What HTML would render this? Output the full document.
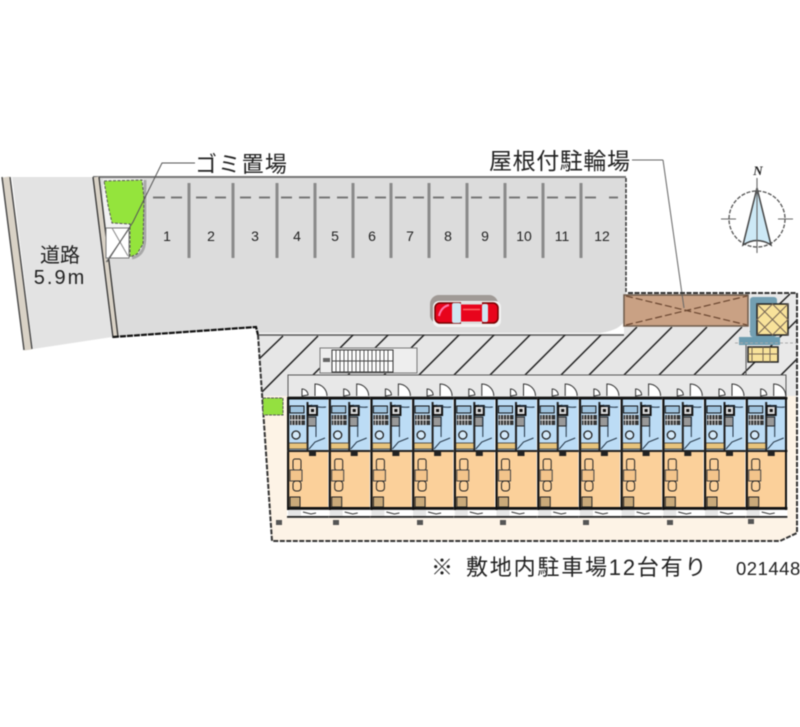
<!DOCTYPE html>
<html lang="ja"><head><meta charset="utf-8"><style>
html,body{margin:0;padding:0;background:#fff}
svg{display:block;filter:blur(.45px)}
text{font-family:"Liberation Sans","Noto Sans CJK JP",sans-serif;fill:#222}
</style></head><body>
<svg width="800" height="727" viewBox="0 0 800 727" xmlns="http://www.w3.org/2000/svg">
<defs>
<clipPath id="hc"><polygon points="258,335 624,335 624,327 745,327 745,375 288,375 288,396 262,396"/></clipPath>
<g id="unit">
 <rect x="0" y="0" width="41.7" height="121" fill="#fff"/>
 <rect x="1" y="0" width="40" height="56" fill="#bcdcf5"/>
 <rect x="1" y="55" width="40" height="56" fill="#fbd09a"/>
 <rect x="1" y="113" width="13" height="6" fill="#e6e6e6"/>
 <rect x="15" y="113" width="26" height="6" fill="#fff"/>
 <path d="M16 115l8 2 5-1" stroke="#333" fill="none"/>
 <rect x="0" y="0" width="41.7" height="2.500" fill="#111"/>
 <rect x="0" y="0" width="2.200" height="113" fill="#111"/>
 <rect x="0" y="110" width="41.7" height="2.800" fill="#111"/>
 <rect x="0" y="119" width="41.7" height="1.800" fill="#222"/>
 <rect x="0" y="53" width="41.7" height="2" fill="#222"/>
 <rect x="19.500" y="5" width="2" height="48" fill="#222"/>
 <rect x="3" y="9" width="14" height="7" fill="#9fc3de" stroke="#111"/>
 <rect x="3" y="18" width="15" height="10" fill="#333"/>
 <path d="M5 18v10M8 18v10M11 18v10M14 18v10M3 23h15" stroke="#ddd" stroke-width=".9"/>
 <rect x="21" y="9" width="9" height="9" fill="#ddd" stroke="#111" stroke-width="2"/>
 <rect x="24" y="12" width="3" height="3" fill="#111"/>
 <rect x="21" y="20" width="8" height="9" fill="#999" stroke="#222"/>
 <circle cx="9" cy="38" r="4" fill="#d5eafa" stroke="#222" stroke-width="1.300"/>
 <rect x="2" y="46" width="18" height="6" fill="#e8c47c" stroke="#333" stroke-width=".8"/>
 <path d="M22 52l6-7 10-4M24 8q8 3 15 2M29 20v20" stroke="#234" fill="none"/>
 <rect x="22" y="53" width="7" height="6" fill="#222"/>
 <rect x="6" y="62" width="8" height="11" rx="2" fill="#fbd09a" stroke="#222"/>
 <rect x="3" y="73" width="12" height="11" fill="#f3c48b" stroke="#444"/>
 <rect x="6" y="84" width="8" height="10" rx="3" fill="#fbd09a" stroke="#222"/>
 <rect x="3" y="100" width="10" height="10" fill="#c9a97a" stroke="#222"/>
 <path d="M28 -1v-12a12 12 0 0 1 12 12" fill="#fff" stroke="#333"/>
 <path d="M15 -1v-7a6 6 0 0 1 6 6z" fill="#fff" stroke="#333"/>
</g>
</defs>
<rect width="800" height="727" fill="#fff"/>

<!-- road -->
<polygon points="12,177 93,177 112,337 33,349" fill="#e3e3e3"/>
<path d="M6,177 L28,350" stroke="#d9d2c6" stroke-width="7"/>
<path d="M2,177 L24,350 M10,177 L32,349" stroke="#444" stroke-width="1.400"/>

<!-- parking lot -->
<path d="M96,178 H626 V318 Q622,330 600,333 H257 V327 L114,337Z" fill="#dcdcdc"/>
<path d="M93,177 H626" stroke="#777" stroke-width="2"/>
<path d="M626,178 V292" stroke="#333" stroke-width="1.500" stroke-dasharray="4 1.500"/>
<path d="M96,177 L116,337" stroke="#d9d2c6" stroke-width="6"/>
<path d="M93,177 L113,338 M99,177 L118,337" stroke="#333" stroke-width="1.300"/>
<path d="M113,337 L256,327 L258,335" stroke="#111" stroke-width="2.200" fill="none" stroke-dasharray="6 1"/>

<!-- garbage corner -->
<path d="M103,179 H143 L147,190 V240 Q146,256 130,258 H110 L103,200Z" fill="#f2f2f2"/>
<path d="M145,180 V238 Q145,255 132,258" stroke="#a8a8a8" stroke-width="3" fill="none"/>
<rect x="106" y="228" width="23" height="30" fill="#fff" stroke="#777"/>
<path d="M129,229 L106,262 M112,228 L128,256" stroke="#888"/>
<polygon points="104,181 142,180 144,198 143,244 137,254 130,257 130,224 112,223 108,205" fill="#94e43c" stroke="#555" stroke-width="1" stroke-dasharray="3 1.500"/>
<path d="M195,163 H162 L133,222 L107,262" stroke="#555" stroke-width="1" fill="none"/>

<!-- stalls -->
<g stroke="#8a8a8a" stroke-width="3">
<path d="M189,183V258M233,183V258M277,183V258M315,183V258M353,183V258M391,183V258M429,183V258M467,183V258M505,183V258M543,183V258M581,183V258"/>
</g>
<path d="M153,197.500H165M171,197.500H182M196,197.500H207M215,197.500H226M240,197.500H251M259,197.500H270M281,197.500H292M299,197.500H310M319,197.500H330M337,197.500H348M357,197.500H368M375,197.500H386M395,197.500H406M413,197.500H424M433,197.500H444M451,197.500H462M471,197.500H482M489,197.500H500M509,197.500H520M527,197.500H538M547,197.500H558M565,197.500H576M585,197.500H596M609,197.500H618" stroke="#777" stroke-width="2"/>
<g font-size="14" text-anchor="middle" fill="#333">
<text x="167" y="241">1</text><text x="211" y="241">2</text><text x="255" y="241">3</text><text x="297" y="241">4</text><text x="335" y="241">5</text><text x="372" y="241">6</text><text x="410" y="241">7</text><text x="448" y="241">8</text><text x="485" y="241">9</text><text x="524" y="241">10</text><text x="562" y="241">11</text><text x="602" y="241">12</text>
</g>

<!-- car -->
<rect x="430" y="295" width="68" height="29" rx="9" fill="#a09a96"/>
<rect x="433" y="301" width="68" height="26" rx="6" fill="#f2f2f2"/>
<rect x="435" y="303" width="63" height="20" rx="5" fill="#e8041c" stroke="#700" stroke-width="1.500"/>
<rect x="452" y="303" width="9" height="20" rx="2" fill="#cfe6f2"/>
<rect x="482" y="304" width="6" height="18" rx="2" fill="#cfe6f2"/>
<rect x="461" y="302" width="21" height="2.500" fill="#ddd"/>
<rect x="461" y="321.500" width="21" height="2.500" fill="#ddd"/>
<path d="M439,316 Q441,307 449,305" stroke="#f7a" stroke-width="2" fill="none"/>
<path d="M463,309.500H480" stroke="#f66" stroke-width="1.500"/>

<!-- site beige -->
<polygon points="262,396 797,396 797,533 780,541 272,541" fill="#fdf3e6"/>

<!-- hatch -->
<polygon points="258,335 624,335 624,327 748,327 748,375 288,375 288,396 262,396" fill="#e6e6e6"/>
<polygon points="748,293 797,293 797,396 748,396" fill="#e9e9e9"/>
<path d="M258,335H624" stroke="#555" stroke-width="1.500"/>
<g clip-path="url(#hc)" stroke="#222" stroke-width="1.500">
<path d="M283,336l-25,24M318,336l-56,56M354,334l-41,41M389,334l-41,41M425,334l-41,41M460,334l-41,41M495,334l-41,41M531,334l-41,41M566,334l-41,41M602,334l-41,41M637,327l-48,48M672,327l-48,48M707,327l-48,48M742,327l-48,48"/>
</g>
<path d="M742,375l55,-55M760,396l37,-37M750,332l40,-38" stroke="#222" stroke-width="1.500"/>

<!-- stair -->
<rect x="320" y="348" width="97" height="25" fill="#eee" stroke="#777"/>
<rect x="332" y="350" width="61" height="22" fill="#fff" stroke="#333"/>
<path d="M336,350v22M340,350v22M344,350v22M348,350v22M352,350v22M356,350v22M360,350v22M364,350v22M368,350v22M372,350v22M376,350v22M380,350v22M384,350v22M388,350v22M332,361h61" stroke="#444" stroke-width=".9"/>
<rect x="323" y="358" width="7" height="4" fill="#666"/>

<!-- roof -->
<rect x="624" y="295" width="124" height="31" fill="#c9a184" stroke="#6d5a4a" stroke-width="1.500"/>
<path d="M626,296 L747,325 M626,325 L747,296" stroke="#6a4630" stroke-width="1.200" stroke-dasharray="7 3"/>
<path d="M663,160 L684,308" stroke="#666" stroke-width="1"/>
<path d="M632,160H663" stroke="#666" stroke-width="1"/>
<path d="M628,293H797V533L780,541H272L258,335" stroke="#333" stroke-width="2" stroke-dasharray="5 1.500" fill="none"/>

<!-- meter boxes -->
<rect x="750" y="297" width="27" height="40" rx="3" fill="#739fb2"/>
<rect x="757" y="304" width="31" height="31" fill="#f8e29a" stroke="#222" stroke-width="1.500"/>
<path d="M757,304l31,31M788,304l-31,31M772.500,304l15.500,15.500-15.500,15.500-15.500,-15.500z" stroke="#765" fill="none"/>
<rect x="739" y="337" width="41" height="8" fill="#6c9cb0"/>
<rect x="748" y="347" width="30" height="15" fill="#f8e29a" stroke="#222" stroke-width="1.500"/>
<path d="M752,347v15M763,347v15M770,347v15M748,354h30" stroke="#765"/>
<path d="M746,345V396" stroke="#555"/>
<path d="M735,343H797" stroke="#aaa" stroke-dasharray="3 2"/>

<!-- corridor -->
<rect x="288" y="375" width="498" height="22" fill="#e8e8e8" stroke="#555"/>
<rect x="263" y="398" width="20" height="17" fill="#94e040" stroke="#555" stroke-dasharray="3 1"/>

<!-- units -->
<use href="#unit" x="287" y="397"/><use href="#unit" x="328.700" y="397"/><use href="#unit" x="370.400" y="397"/><use href="#unit" x="412.100" y="397"/>
<use href="#unit" x="453.800" y="397"/><use href="#unit" x="495.500" y="397"/><use href="#unit" x="537.200" y="397"/><use href="#unit" x="578.900" y="397"/>
<use href="#unit" x="620.600" y="397"/><use href="#unit" x="662.300" y="397"/><use href="#unit" x="704" y="397"/><use href="#unit" x="745.700" y="397"/>
<path d="M786,397V510" stroke="#111" stroke-width="2"/>
<g fill="#555"><rect x="276" y="520" width="6" height="5"/><rect x="333" y="520" width="6" height="5"/><rect x="417" y="520" width="6" height="5"/><rect x="500" y="520" width="6" height="5"/><rect x="583" y="520" width="6" height="5"/><rect x="667" y="520" width="6" height="5"/><rect x="748" y="519" width="6" height="5"/></g>

<!-- compass -->
<circle cx="757" cy="219" r="28" fill="none" stroke="#555" stroke-width="1.300" stroke-dasharray="4 1.500"/>
<path d="M757,188 L743,245 Q757,236 771,245Z" fill="#cde9f6" stroke="#444" stroke-width="1.500"/>
<path d="M757,178V253M721,219H736M778,219H793" stroke="#666" stroke-width="1.100"/>
<text x="758" y="175" font-size="13" font-weight="bold" font-style="italic" text-anchor="middle" style="font-family:'Liberation Serif',serif">N</text>

<!-- labels -->
<text x="195" y="172" font-size="22" letter-spacing="1.300">ゴミ置場</text>
<text x="489" y="169" font-size="23" letter-spacing=".6">屋根付駐輪場</text>
<text x="60" y="262" font-size="20" text-anchor="middle">道路</text>
<text x="60" y="284" font-size="20" text-anchor="middle" letter-spacing="2">5.9m</text>
<text x="431" y="575" font-size="22">※</text>
<text x="466" y="575" font-size="22" letter-spacing="1.800">敷地内駐車場12台有り</text>
<text x="736" y="575" font-size="18.500" letter-spacing=".5">021448</text>
</svg>
</body></html>
